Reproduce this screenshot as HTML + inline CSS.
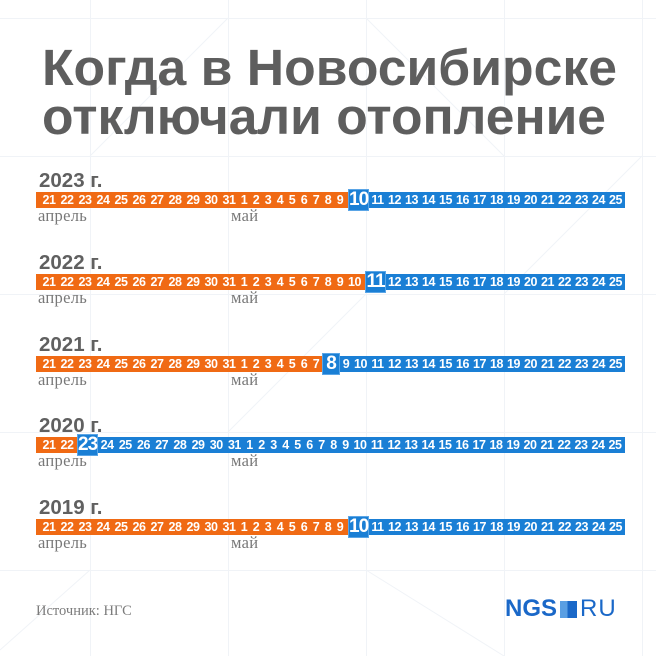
<!DOCTYPE html>
<html><head><meta charset="utf-8">
<style>
*{margin:0;padding:0;box-sizing:border-box}
html,body{width:656px;height:656px;overflow:hidden;background:#fff}
body{position:relative;font-family:"Liberation Sans",sans-serif}
.bg{position:absolute;left:0;top:0}
.t{position:absolute;left:42px;font-weight:bold;font-size:51px;line-height:51px;color:#5e5e5e;white-space:nowrap;transform-origin:0 0}
.yr{position:absolute;left:39px;font-weight:bold;font-size:20.5px;line-height:20px;color:#606060;white-space:nowrap}
.mo{position:absolute;font-family:"Liberation Serif",serif;font-size:16.5px;line-height:17px;letter-spacing:0.3px;color:#787878;white-space:nowrap}
.bar{position:absolute;left:36px;width:589px;height:16px}
.nums{position:absolute;left:40px;height:16px;display:flex;align-items:center;white-space:nowrap}
.nums span{display:block;height:16px;line-height:16px;text-align:center;color:#fff;font-weight:bold;font-size:12.5px;letter-spacing:-0.5px;flex:none}
.nums .a{width:18px}.nums .s{width:12px}.nums .b{width:17px}.nums .c{width:18.2px}
.nums span.hl{height:22px;line-height:20px;font-size:19px;letter-spacing:-1px;background:#1a7fd5;border:1px solid #5aa5e6}
.src{position:absolute;left:36px;top:604px;font-family:"Liberation Serif",serif;font-size:14.5px;line-height:15px;color:#7c7c7c}
.logo{position:absolute;left:505px;top:597px;height:24px;display:flex;align-items:center;color:#1a68c8;font-size:24px;line-height:24px}
.logo .n{font-weight:bold;letter-spacing:0px}
.logo .sq{width:17px;height:17px;margin:0 3px 0 3px;background:linear-gradient(to right,#5a9fe3 0 45%,#1a68c8 45%)}
.logo .r{letter-spacing:1px}
</style></head><body>
<svg class="bg" width="656" height="656" viewBox="0 0 656 656">
<g stroke="#f0f3f7" stroke-width="1" fill="none">
<line x1="90.5" y1="0" x2="90.5" y2="656"/><line x1="228.5" y1="0" x2="228.5" y2="656"/><line x1="366.5" y1="0" x2="366.5" y2="656"/><line x1="504.5" y1="0" x2="504.5" y2="656"/><line x1="642.5" y1="0" x2="642.5" y2="656"/>
<line x1="0" y1="18.5" x2="656" y2="18.5"/><line x1="0" y1="156.5" x2="656" y2="156.5"/><line x1="0" y1="294.5" x2="656" y2="294.5"/><line x1="0" y1="432.5" x2="656" y2="432.5"/><line x1="0" y1="570.5" x2="656" y2="570.5"/>
<line x1="0" y1="650" x2="90" y2="570"/><line x1="366" y1="570" x2="504" y2="656"/><line x1="366" y1="18" x2="504" y2="156"/><line x1="90" y1="156" x2="228" y2="18"/><line x1="504" y1="294" x2="642" y2="156"/><line x1="228" y1="432" x2="366" y2="294"/>
</g></svg>

<div class="t" id="t1" style="top:42px">Когда в Новосибирске</div>
<div class="t" id="t2" style="top:91px">отключали отопление</div>

<!-- 2023 -->
<div class="yr" style="top:171px">2023 г.</div>
<div class="bar" style="top:192px;background:linear-gradient(to right,#f06a14 0 312px,#1a7fd5 312px)"></div>
<div class="nums" style="top:192px"><span class="a">21</span><span class="a">22</span><span class="a">23</span><span class="a">24</span><span class="a">25</span><span class="a">26</span><span class="a">27</span><span class="a">28</span><span class="a">29</span><span class="a">30</span><span class="a">31</span><span class="s">1</span><span class="s">2</span><span class="s">3</span><span class="s">4</span><span class="s">5</span><span class="s">6</span><span class="s">7</span><span class="s">8</span><span class="s">9</span><span class="hl" style="width:21px;margin-left:2px">10</span><span class="b">11</span><span class="b">12</span><span class="b">13</span><span class="b">14</span><span class="b">15</span><span class="b">16</span><span class="b">17</span><span class="b">18</span><span class="b">19</span><span class="b">20</span><span class="b">21</span><span class="b">22</span><span class="b">23</span><span class="b">24</span><span class="b">25</span></div>
<div class="mo" style="left:38px;top:207px">апрель</div>
<div class="mo" style="left:231px;top:207px">май</div>

<!-- 2022 -->
<div class="yr" style="top:253px">2022 г.</div>
<div class="bar" style="top:274px;background:linear-gradient(to right,#f06a14 0 329px,#1a7fd5 329px)"></div>
<div class="nums" style="top:274px"><span class="a">21</span><span class="a">22</span><span class="a">23</span><span class="a">24</span><span class="a">25</span><span class="a">26</span><span class="a">27</span><span class="a">28</span><span class="a">29</span><span class="a">30</span><span class="a">31</span><span class="s">1</span><span class="s">2</span><span class="s">3</span><span class="s">4</span><span class="s">5</span><span class="s">6</span><span class="s">7</span><span class="s">8</span><span class="s">9</span><span class="b">10</span><span class="hl" style="width:21px;margin-left:2px">11</span><span class="b">12</span><span class="b">13</span><span class="b">14</span><span class="b">15</span><span class="b">16</span><span class="b">17</span><span class="b">18</span><span class="b">19</span><span class="b">20</span><span class="b">21</span><span class="b">22</span><span class="b">23</span><span class="b">24</span><span class="b">25</span></div>
<div class="mo" style="left:38px;top:289px">апрель</div>
<div class="mo" style="left:231px;top:289px">май</div>

<!-- 2021 -->
<div class="yr" style="top:335px">2021 г.</div>
<div class="bar" style="top:356px;background:linear-gradient(to right,#f06a14 0 286px,#1a7fd5 286px)"></div>
<div class="nums" style="top:356px"><span class="a">21</span><span class="a">22</span><span class="a">23</span><span class="a">24</span><span class="a">25</span><span class="a">26</span><span class="a">27</span><span class="a">28</span><span class="a">29</span><span class="a">30</span><span class="a">31</span><span class="s">1</span><span class="s">2</span><span class="s">3</span><span class="s">4</span><span class="s">5</span><span class="s">6</span><span class="s">7</span><span class="hl" style="width:18px">8</span><span class="s">9</span><span class="b">10</span><span class="b">11</span><span class="b">12</span><span class="b">13</span><span class="b">14</span><span class="b">15</span><span class="b">16</span><span class="b">17</span><span class="b">18</span><span class="b">19</span><span class="b">20</span><span class="b">21</span><span class="b">22</span><span class="b">23</span><span class="b">24</span><span class="b">25</span></div>
<div class="mo" style="left:38px;top:371px">апрель</div>
<div class="mo" style="left:231px;top:371px">май</div>

<!-- 2020 -->
<div class="yr" style="top:416px">2020 г.</div>
<div class="bar" style="top:437px;background:linear-gradient(to right,#f06a14 0 41px,#1a7fd5 41px)"></div>
<div class="nums" style="top:437px"><span class="a">21</span><span class="a">22</span><span class="hl" style="width:21px;margin-left:1px">23</span><span class="c">24</span><span class="c">25</span><span class="c">26</span><span class="c">27</span><span class="c">28</span><span class="c">29</span><span class="c">30</span><span class="c">31</span><span class="s">1</span><span class="s">2</span><span class="s">3</span><span class="s">4</span><span class="s">5</span><span class="s">6</span><span class="s">7</span><span class="s">8</span><span class="s">9</span><span class="b">10</span><span class="b">11</span><span class="b">12</span><span class="b">13</span><span class="b">14</span><span class="b">15</span><span class="b">16</span><span class="b">17</span><span class="b">18</span><span class="b">19</span><span class="b">20</span><span class="b">21</span><span class="b">22</span><span class="b">23</span><span class="b">24</span><span class="b">25</span></div>
<div class="mo" style="left:38px;top:452px">апрель</div>
<div class="mo" style="left:231px;top:452px">май</div>

<!-- 2019 -->
<div class="yr" style="top:498px">2019 г.</div>
<div class="bar" style="top:519px;background:linear-gradient(to right,#f06a14 0 312px,#1a7fd5 312px)"></div>
<div class="nums" style="top:519px"><span class="a">21</span><span class="a">22</span><span class="a">23</span><span class="a">24</span><span class="a">25</span><span class="a">26</span><span class="a">27</span><span class="a">28</span><span class="a">29</span><span class="a">30</span><span class="a">31</span><span class="s">1</span><span class="s">2</span><span class="s">3</span><span class="s">4</span><span class="s">5</span><span class="s">6</span><span class="s">7</span><span class="s">8</span><span class="s">9</span><span class="hl" style="width:21px;margin-left:2px">10</span><span class="b">11</span><span class="b">12</span><span class="b">13</span><span class="b">14</span><span class="b">15</span><span class="b">16</span><span class="b">17</span><span class="b">18</span><span class="b">19</span><span class="b">20</span><span class="b">21</span><span class="b">22</span><span class="b">23</span><span class="b">24</span><span class="b">25</span></div>
<div class="mo" style="left:38px;top:534px">апрель</div>
<div class="mo" style="left:231px;top:534px">май</div>

<div class="src">Источник: НГС</div>
<div class="logo"><span class="n">NGS</span><span class="sq"></span><span class="r">RU</span></div>

<script>
(function(){
  function fit(id,w){var e=document.getElementById(id);if(!e)return;var r=e.getBoundingClientRect().width;if(r>0){e.style.transform='scaleX('+(w/r)+')';}}
  fit('t1',575);fit('t2',564);
})();
</script>
</body></html>
